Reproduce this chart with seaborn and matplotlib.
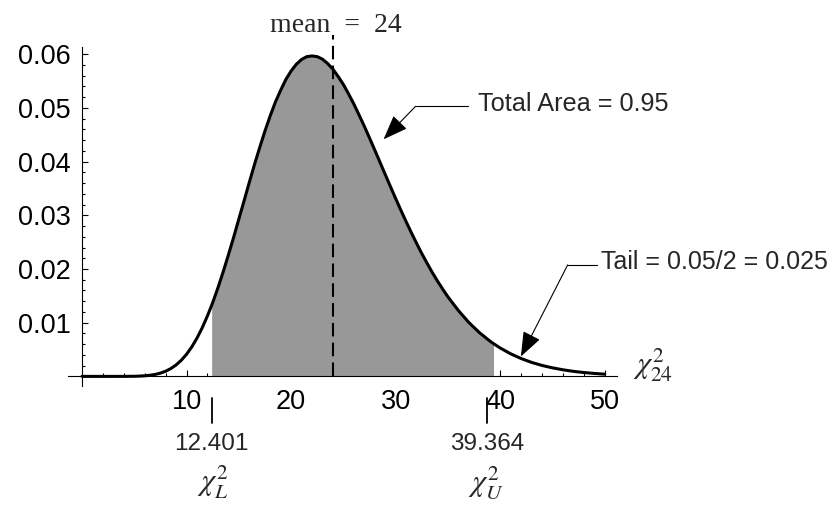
import numpy as np
import pandas as pd
import matplotlib
matplotlib.use("Agg")
import matplotlib.pyplot as plt
from matplotlib.ticker import MultipleLocator
import seaborn as sns

# ---- data ----
chi_x = [0, 1, 2, 3, 4, 5, 5.5, 6, 6.5, 7, 7.5, 8, 8.5, 9, 9.5, 10, 10.5, 11, 11.5, 12,
         12.401, 12.5, 13, 13.5, 14, 14.5, 15, 15.5, 16, 16.5, 17, 17.5, 18, 18.5, 19,
         19.5, 20, 20.5, 21, 21.5, 22, 22.5, 23, 23.5, 24, 24.5, 25, 25.5, 26, 26.5,
         27, 27.5, 28, 28.5, 29, 29.5, 30, 30.5, 31, 31.5, 32, 32.5, 33, 33.5, 34, 34.5,
         35, 36, 37, 38, 39, 39.364, 40, 41, 42, 43, 44, 45, 46, 47, 48, 49, 50]
density = [0.0, 0.0, 0.0, 0.0, 0.0000035, 0.0000245, 0.0000544, 0.00011, 0.000208,
           0.000365, 0.000607, 0.00096, 0.00146, 0.00213, 0.00301, 0.00412, 0.00549,
           0.00713, 0.00905, 0.01127, 0.01323, 0.01374, 0.01648, 0.01945, 0.02261,
           0.02587, 0.02929, 0.03267, 0.03612, 0.03947, 0.04264, 0.04569, 0.04851,
           0.05110, 0.05328, 0.05530, 0.05687, 0.05813, 0.05902, 0.05955, 0.05968,
           0.05955, 0.05908, 0.05826, 0.05721, 0.05586, 0.05437, 0.05261, 0.05074,
           0.04870, 0.04661, 0.04442, 0.04218, 0.03991, 0.03763, 0.03537, 0.03314,
           0.03096, 0.02884, 0.02678, 0.02480, 0.02289, 0.02111, 0.01937, 0.01777,
           0.01626, 0.01482, 0.01227, 0.01005, 0.00818, 0.00660, 0.00610, 0.00529,
           0.00421, 0.00333, 0.00261, 0.00204, 0.00159, 0.00123, 0.00094, 0.00072,
           0.00055, 0.00041]
lower_crit = 12.401
upper_crit = 39.364
mean_value = 24
x_ticks = [10, 20, 30, 40, 50]
x_tick_labels = ["10", "20", "30", "40", "50"]
y_ticks = [0.01, 0.02, 0.03, 0.04, 0.05, 0.06]
y_tick_labels = ["0.01", "0.02", "0.03", "0.04", "0.05", "0.06"]
crit_labels = ["12.401", "39.364"]

df = pd.DataFrame({"x": chi_x, "y": density})

sns.set_theme(style="white")
plt.rcParams["font.family"] = ["Liberation Sans", "DejaVu Sans"]

fig = plt.figure(figsize=(8.33, 5.05), dpi=100)
ax = fig.add_axes([0.0815, 0.2366, 0.6595, 0.6709])
ax.set_facecolor("white")

# shaded central area
mask = (df["x"] >= lower_crit) & (df["x"] <= upper_crit)
ax.fill_between(df.loc[mask, "x"], 0, df.loc[mask, "y"], color="#989898", lw=0, zorder=1)

# mean line
ax.plot([mean_value, mean_value], [0, 0.0636], color="black", lw=1.5,
        dashes=(6.5, 3), clip_on=False, zorder=2)

# density curve
sns.lineplot(data=df, x="x", y="y", ax=ax, color="black", lw=2.2, zorder=3,
             sort=True, estimator=None)

ax.set_xlim(-1.35, 51.2)
ax.set_ylim(-0.0017, 0.0614)
ax.set_xlabel("")
ax.set_ylabel("")

for s in ["top", "right"]:
    ax.spines[s].set_visible(False)
ax.spines["left"].set_position(("data", 0))
ax.spines["bottom"].set_position(("data", 0))
for s in ["left", "bottom"]:
    ax.spines[s].set_color("black")
    ax.spines[s].set_linewidth(0.8)

ax.set_xticks(x_ticks)
ax.set_xticklabels(x_tick_labels)
ax.set_yticks(y_ticks)
ax.set_yticklabels(y_tick_labels)
ax.xaxis.set_minor_locator(MultipleLocator(2))
ax.yaxis.set_minor_locator(MultipleLocator(0.002))
ax.tick_params(axis="x", which="both", direction="in", bottom=True, top=False,
               labelsize=19.5, pad=9, colors="black", width=0.8)
ax.tick_params(axis="y", which="both", direction="in", left=True, right=False,
               labelsize=19.5, pad=8, colors="black", width=0.8)
ax.tick_params(which="major", length=4)
ax.tick_params(which="minor", length=2.4)

# critical value markers below axis
serif = ["Liberation Serif", "DejaVu Serif"]
marker_x = [lower_crit, 38.77]
for mx, lab in zip(marker_x, crit_labels):
    ax.plot([mx, mx], [-0.00402, -0.00868], color="black", lw=1.3, clip_on=False)
    ax.text(mx, -0.01371, lab, ha="center", va="baseline", fontsize=17.5)

# chi-square symbols
chi_texts = [(11.0, -0.0213, r"$\chi^{2}_{L}$"),
             (36.92, -0.0213, r"$\chi^{2}_{U}$"),
             (52.70, 0.00045, r"$\chi^{2}_{24}$")]
for tx, ty, s in chi_texts:
    ax.text(tx, ty, s, ha="left", va="baseline", fontsize=22,
            math_fontfamily="stix", clip_on=False)

# mean label
ax.text(24.29, 0.0642, "mean  =  24", ha="center", va="baseline", fontsize=20,
        family=serif, clip_on=False)

# annotations
arrow_kw = dict(arrowstyle="-|>,head_length=1.1,head_width=0.42", color="black",
                lw=0.8, shrinkA=0, shrinkB=0, mutation_scale=14)
ax.plot([36.89, 31.91], [0.0503, 0.0503], color="black", lw=0.8, clip_on=False)
ax.annotate("", xy=(28.85, 0.04416), xytext=(31.91, 0.0503), arrowprops=arrow_kw,
            annotation_clip=False)
ax.text(37.88, 0.04936, "Total Area = 0.95", ha="left", va="baseline", fontsize=18.2,
        clip_on=False)

ax.plot([49.30, 46.46], [0.02077, 0.02077], color="black", lw=0.8, clip_on=False)
ax.annotate("", xy=(41.98, 0.0037), xytext=(46.46, 0.02077), arrowprops=arrow_kw,
            annotation_clip=False)
ax.text(49.61, 0.0200, "Tail = 0.05/2 = 0.025", ha="left", va="baseline", fontsize=18,
        clip_on=False)

fig.savefig("out.png", dpi=100, facecolor="white")
